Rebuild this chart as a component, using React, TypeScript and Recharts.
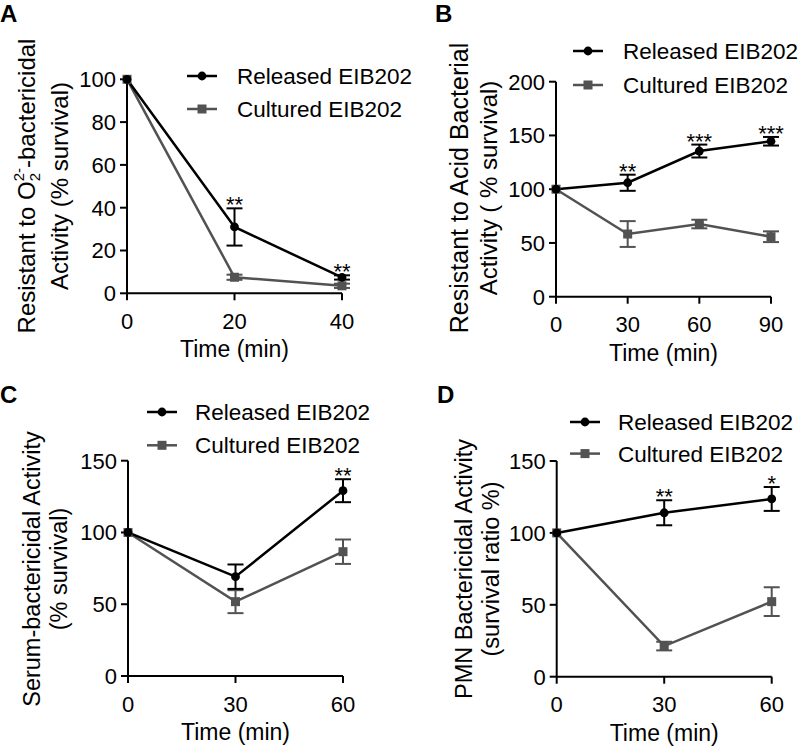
import React from 'react';
import { LineChart, Line, XAxis, YAxis, ErrorBar, Legend } from 'recharts';

const FONT = '"Liberation Sans", Arial, Helvetica, sans-serif';
const BLACK = '#000000';
const GRAY = '#525252';

const seriesNames = ['Released EIB202', 'Cultured EIB202'];

// Panel A
const timesA = [0, 20, 40];
const releasedA = [100, 31, 7.4];
const releasedErrA = [0, 8.7, 1];
const culturedA = [100, 7.5, 3.5];
const culturedErrA = [0, 1.2, 1];
const sigA = ['', '**', '**'];
const xTicksA = [0, 20, 40];
const yTicksA = [0, 20, 40, 60, 80, 100];

// Panel B
const timesB = [0, 30, 60, 90];
const releasedB = [100, 106, 135.5, 144.6];
const releasedErrB = [0, 7.5, 6, 4];
const culturedB = [100, 58.3, 67.6, 55.8];
const culturedErrB = [0, 12, 4, 5];
const sigB = ['', '**', '***', '***'];
const xTicksB = [0, 30, 60, 90];
const yTicksB = [0, 50, 100, 150, 200];

// Panel C
const timesC = [0, 30, 60];
const releasedC = [100, 69.2, 129.1];
const releasedErrC = [0, 8.5, 8];
const culturedC = [100, 51.8, 86.6];
const culturedErrC = [0, 8, 8.5];
const sigC = ['', '', '**'];
const xTicksC = [0, 30, 60];
const yTicksC = [0, 50, 100, 150];

// Panel D
const timesD = [0, 30, 60];
const releasedD = [100, 114, 123.6];
const releasedErrD = [0, 8.7, 8.3];
const culturedD = [100, 21.3, 52.2];
const culturedErrD = [0, 3, 10];
const sigD = ['', '**', '*'];
const xTicksD = [0, 30, 60];
const yTicksD = [0, 50, 100, 150];

function buildRows(times, rel, relErr, cul, culErr, sig) {
  return times.map((t, i) => ({
    t,
    rel: rel[i],
    relErr: relErr[i],
    cul: cul[i],
    culErr: culErr[i],
    sig: sig[i],
    star: sig[i] ? rel[i] + relErr[i] : null,
  }));
}

const renderStar = (p) => {
  const { cx, cy, payload, index } = p;
  if (!payload || !payload.sig || cy == null || isNaN(cy)) return <g key={`s${index}`} />;
  return (
    <text key={`s${index}`} x={cx} y={cy + 4} textAnchor="middle" fontSize={22} fill={BLACK} fontFamily={FONT}>
      {payload.sig}
    </text>
  );
};

const renderCircle = (p) => {
  const { cx, cy, index } = p;
  if (cy == null || isNaN(cy)) return <g key={`c${index}`} />;
  return <circle key={`c${index}`} cx={cx} cy={cy} r={4.4} fill={BLACK} />;
};

const renderSquare = (p) => {
  const { cx, cy, index } = p;
  if (cy == null || isNaN(cy)) return <g key={`q${index}`} />;
  return <rect key={`q${index}`} x={cx - 4.5} y={cy - 4.5} width={9} height={9} fill={GRAY} />;
};

const makeLegend = (textX, spacing) => () => (
  <svg width={260} height={72} style={{ overflow: 'visible', display: 'block' }}>
    {seriesNames.map((name, i) => {
      const y = 16 + i * spacing;
      const color = i === 0 ? BLACK : GRAY;
      return (
        <g key={name}>
          <line x1={0} x2={30} y1={y} y2={y} stroke={color} strokeWidth={2.5} />
          {i === 0 ? (
            <circle cx={15} cy={y} r={4.4} fill={color} />
          ) : (
            <rect x={10.5} y={y - 4.5} width={9} height={9} fill={color} />
          )}
          <text x={textX} y={y + 8} fontSize={22.5} fill={BLACK} fontFamily={FONT}>
            {name}
          </text>
        </g>
      );
    })}
  </svg>
);

const Letter = ({ x, y, t }) => (
  <text x={x} y={y} fontSize={24} fontWeight="bold" fill={BLACK} fontFamily={FONT}>
    {t}
  </text>
);

const labelA = () => (
  <g>
    <Letter x={0} y={22} t="A" />
    <text transform="rotate(-90)" x={-186} y={35} textAnchor="middle" fontSize={24} fill={BLACK} fontFamily={FONT}>
      Resistant to O
      <tspan dy={5} fontSize={15}>2</tspan>
      <tspan dx={-8.3} dy={-16} fontSize={15}>2-</tspan>
      <tspan dy={11} fontSize={24}>-bactericidal</tspan>
    </text>
    <text transform="rotate(-90)" x={-186} y={68} textAnchor="middle" fontSize={24} fill={BLACK} fontFamily={FONT}>
      Activity (% survival)
    </text>
  </g>
);

const labelB = () => (
  <g>
    <Letter x={35} y={22} t="B" />
    <text transform="rotate(-90)" x={-188} y={68} textAnchor="middle" fontSize={25} fill={BLACK} fontFamily={FONT}>
      Resistant to Acid Bacterial
    </text>
    <text transform="rotate(-90)" x={-188} y={97} textAnchor="middle" fontSize={24} fill={BLACK} fontFamily={FONT}>
      Activity ( % survival)
    </text>
  </g>
);

const labelC = () => (
  <g>
    <Letter x={0} y={33} t="C" />
    <text transform="rotate(-90)" x={-199} y={40} textAnchor="middle" fontSize={23.5} fill={BLACK} fontFamily={FONT}>
      Serum-bactericidal Activity
    </text>
    <text transform="rotate(-90)" x={-199} y={67} textAnchor="middle" fontSize={23.5} fill={BLACK} fontFamily={FONT}>
      (% survival)
    </text>
  </g>
);

const labelD = () => (
  <g>
    <Letter x={37} y={33} t="D" />
    <text transform="rotate(-90)" x={-199} y={72} textAnchor="middle" fontSize={23.5} fill={BLACK} fontFamily={FONT}>
      PMN Bactericidal Activity
    </text>
    <text transform="rotate(-90)" x={-199} y={99} textAnchor="middle" fontSize={23.5} fill={BLACK} fontFamily={FONT}>
      (survival ratio %)
    </text>
  </g>
);

const panels = [
  {
    key: 'A', left: 0, top: 0, width: 400, height: 370,
    margin: { top: 79.3, right: 58, bottom: 6.7, left: 77 },
    data: buildRows(timesA, releasedA, releasedErrA, culturedA, culturedErrA, sigA),
    xDomain: [0, 40], xTicks: xTicksA, yDomain: [0, 100], yTicks: yTicksA,
    yLabel: labelA, legendPos: { left: 187, top: 60 }, legendTextX: 50, legendSpacing: 33,
  },
  {
    key: 'B', left: 400, top: 0, width: 400, height: 370,
    margin: { top: 81.7, right: 29, bottom: 3.3, left: 106 },
    data: buildRows(timesB, releasedB, releasedErrB, culturedB, culturedErrB, sigB),
    xDomain: [0, 90], xTicks: xTicksB, yDomain: [0, 200], yTicks: yTicksB,
    yLabel: labelB, legendPos: { left: 173, top: 35 }, legendTextX: 50, legendSpacing: 34,
  },
  {
    key: 'C', left: 0, top: 370, width: 400, height: 377,
    margin: { top: 90.7, right: 57, bottom: 1, left: 78 },
    data: buildRows(timesC, releasedC, releasedErrC, culturedC, culturedErrC, sigC),
    xDomain: [0, 60], xTicks: xTicksC, yDomain: [0, 150], yTicks: yTicksC,
    yLabel: labelC, legendPos: { left: 147, top: 25.7 }, legendTextX: 48, legendSpacing: 33.3,
  },
  {
    key: 'D', left: 400, top: 370, width: 400, height: 377,
    margin: { top: 91, right: 28.3, bottom: 0.3, left: 106.7 },
    data: buildRows(timesD, releasedD, releasedErrD, culturedD, culturedErrD, sigD),
    xDomain: [0, 60], xTicks: xTicksD, yDomain: [0, 150], yTicks: yTicksD,
    yLabel: labelD, legendPos: { left: 170, top: 35.7 }, legendTextX: 48, legendSpacing: 31.6,
  },
];

function Panel({ cfg }) {
  return (
    <div style={{ position: 'absolute', left: cfg.left, top: cfg.top, width: cfg.width, height: cfg.height }}>
      <LineChart width={cfg.width} height={cfg.height} data={cfg.data} margin={cfg.margin}>
        <XAxis
          dataKey="t"
          type="number"
          domain={cfg.xDomain}
          ticks={cfg.xTicks}
          height={70}
          axisLine={{ stroke: BLACK, strokeWidth: 2 }}
          tickLine={{ stroke: BLACK, strokeWidth: 2 }}
          tickSize={7}
          tickMargin={13}
          tick={{ fill: BLACK, fontSize: 22, fontFamily: FONT }}
          interval={0}
          label={{ value: 'Time (min)', position: 'insideBottom', offset: 6, fill: BLACK, fontSize: 23, fontFamily: FONT }}
        />
        <YAxis
          type="number"
          domain={cfg.yDomain}
          ticks={cfg.yTicks}
          width={50}
          axisLine={{ stroke: BLACK, strokeWidth: 2 }}
          tickLine={{ stroke: BLACK, strokeWidth: 2 }}
          tickSize={7}
          tickMargin={4}
          tick={{ fill: BLACK, fontSize: 22, fontFamily: FONT }}
          interval={0}
          label={{ content: cfg.yLabel }}
        />
        <Legend
          layout="vertical"
          align="center"
          verticalAlign="middle"
          content={makeLegend(cfg.legendTextX, cfg.legendSpacing)}
          wrapperStyle={{ position: 'absolute', left: cfg.legendPos.left, top: cfg.legendPos.top, width: 260, height: 72, margin: 0, padding: 0 }}
        />
        <Line
          dataKey="cul"
          stroke={GRAY}
          strokeWidth={2.5}
          dot={renderSquare}
          activeDot={false}
          isAnimationActive={false}
        >
          <ErrorBar dataKey="culErr" width={8} stroke={GRAY} strokeWidth={2} direction="y" />
        </Line>
        <Line
          dataKey="rel"
          stroke={BLACK}
          strokeWidth={2.5}
          dot={renderCircle}
          activeDot={false}
          isAnimationActive={false}
        >
          <ErrorBar dataKey="relErr" width={8} stroke={BLACK} strokeWidth={2} direction="y" />
        </Line>
        <Line
          dataKey="star"
          stroke="none"
          dot={renderStar}
          activeDot={false}
          legendType="none"
          isAnimationActive={false}
        />
      </LineChart>
    </div>
  );
}

export default function App() {
  return (
    <div style={{ position: 'absolute', left: 0, top: 0, width: 800, height: 747, background: '#fff', fontFamily: FONT }}>
      {panels.map((p) => (
        <Panel key={p.key} cfg={p} />
      ))}
    </div>
  );
}
